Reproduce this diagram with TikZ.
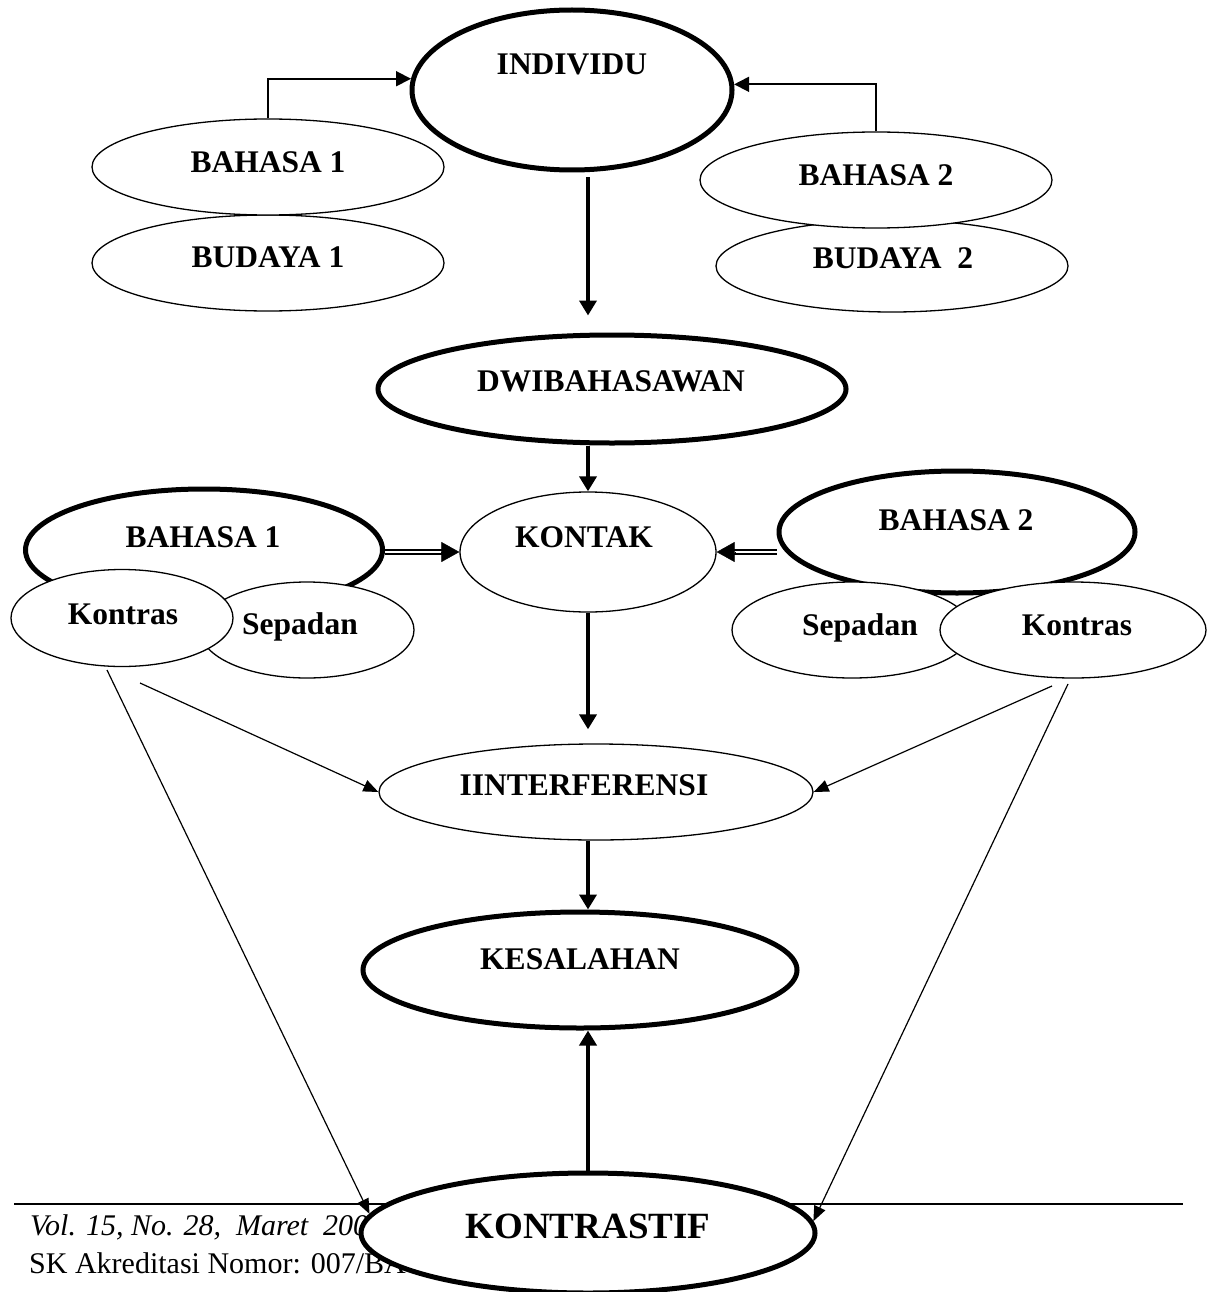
\documentclass[tikz,border=0pt]{standalone}
\usepackage{fontspec}
\setmainfont{Liberation Serif}
\usetikzlibrary{shapes.geometric,arrows.meta,calc}

\begin{document}
\begin{tikzpicture}[x=1pt, y=-1pt,
		ell/.style={ellipse, draw, fill=white, line width=1.3pt, inner sep=0pt},
		thickell/.style={ell, line width=5pt},
		lbl/.style={font=\fontsize{31.5}{36}\selectfont\bfseries, inner sep=0pt, text height=21pt, text depth=0pt},
		foot/.style={font=\fontsize{30}{34}\selectfont, inner sep=0pt},
		bigarrow/.style={line width=4pt, -{Triangle[length=15pt,width=17pt]}},
		sidearrow/.style={line width=1.8pt, -{Triangle[length=15pt,width=15pt]}},
		thinarrow/.style={line width=1.2pt, -{Triangle[length=15pt,width=12pt]}},
		dbl/.style={double, double distance=2.5pt, line width=1.4pt, shorten >=16pt},
		dbltip/.style={line width=0.5pt, -{Triangle[length=18pt,width=20pt]}}]
	\useasboundingbox (0,0) rectangle (1208,1292);
	
	% footer of the page
	\draw[line width=1.3pt] (14,1204) -- (1183,1204);
	\node[foot, anchor=base west] (vol) at (30,1235) {\itshape Vol. 15, No. 28,\ \ Maret\ \ 2008};
	\node[foot, anchor=base west] (sk) at (29,1273) {SK Akreditasi Nomor: 007/BA};
	
	% top row
	\node[thickell, minimum width=320, minimum height=160] (indiv) at (572,90) {};
	\node[lbl] (indivlbl) at (572,64) {INDIVIDU};
	\node[ell, minimum width=352, minimum height=96] (bud1) at (268,263) {};
	\node[lbl] (bud1lbl) at (268,257) {BUDAYA 1};
	\node[ell, minimum width=352, minimum height=96] (bah1a) at (268,167) {};
	\node[lbl] (bah1albl) at (268,162) {BAHASA 1};
	\node[ell, minimum width=352, minimum height=92] (bud2) at (892,266) {};
	\node[lbl] (bud2lbl) at (893,258) {BUDAYA\ \ 2};
	\node[ell, minimum width=352, minimum height=96] (bah2a) at (876,180) {};
	\node[lbl] (bah2albl) at (876,175) {BAHASA 2};
	
	\node[thickell, minimum width=468, minimum height=108] (dwi) at (612,389) {};
	\node[lbl] (dwilbl) at (611,381) {DWIBAHASAWAN};
	
	% middle row
	\node[ell, minimum width=256, minimum height=120] (kontak) at (588,552) {};
	\node[lbl] (kontaklbl) at (584,537) {KONTAK};
	\node[thickell, minimum width=357, minimum height=122] (bah1b) at (204,550) {};
	\node[lbl] (bah1blbl) at (203,537) {BAHASA 1};
	\node[ell, minimum width=214, minimum height=96] (sepL) at (307,630) {};
	\node[lbl] (sepLlbl) at (300,624) {Sepadan};
	\node[ell, minimum width=222, minimum height=97] (konL) at (122,618) {};
	\node[lbl] (konLlbl) at (123,614) {Kontras};
	\node[thickell, minimum width=356, minimum height=122] (bah2b) at (957,532) {};
	\node[lbl] (bah2blbl) at (956,520) {BAHASA 2};
	\node[ell, minimum width=240, minimum height=96] (sepR) at (852,630) {};
	\node[lbl] (sepRlbl) at (860,625) {Sepadan};
	\node[ell, minimum width=266, minimum height=96] (konR) at (1073,630) {};
	\node[lbl] (konRlbl) at (1077,625) {Kontras};
	
	% lower row
	\node[ell, minimum width=434, minimum height=96] (interf) at (596,792) {};
	\node[lbl] (interflbl) at (584,785) {IINTERFERENSI};
	\node[thickell, minimum width=434, minimum height=116] (kesal) at (580,970) {};
	\node[lbl] (kesallbl) at (580,959) {KESALAHAN};
	\node[thickell, minimum width=454, minimum height=120] (kontrastif) at (588,1233) {};
	\node[lbl, font=\fontsize{37}{42}\selectfont\bfseries, text height=25pt] (kontrastiflbl) at (588,1226) {KONTRASTIF};
	
	\coordinate (kl1) at (107,670);
	\coordinate (kl2) at (140,683);
	\coordinate (kr1) at (1068,684);
	\coordinate (kr2) at (1052,686);
	
	% connectors
	\draw[sidearrow] (bah1a.north) |- (indiv.176);
	\draw[sidearrow] (bah2a.north) |- (indiv.2);
	\draw[bigarrow] ($(indiv.south)+(16,5)$) -- ($(dwi.north -| kontak.north)+(0,-17)$);
	\draw[bigarrow] (dwi.south -| kontak.north) -- (kontak.north);
	\draw[dbl] (bah1b.east |- kontak.west) -- (kontak.west);
	\draw[dbltip] ($(kontak.west)+(-18,0)$) -- (kontak.west);
	\draw[dbl] (bah2b.west |- kontak.east) -- (kontak.east);
	\draw[dbltip] ($(kontak.east)+(18,0)$) -- (kontak.east);
	\draw[bigarrow] (kontak.south) -- ($(interf.north -| kontak.south)+(0,-14)$);
	\draw[bigarrow] (interf.south -| kontak.south) -- (kesal.north -| kontak.south);
	\draw[bigarrow] (kontrastif.north) -- (kesal.south -| kontrastif.north);
	\draw[thinarrow] (kl2) -- (interf.west);
	\draw[thinarrow] (kr2) -- (interf.east);
	\draw[thinarrow] (kl1) -- (kontrastif.175);
	\draw[thinarrow] (kr1) -- (kontrastif.3);
\end{tikzpicture}
\end{document}
